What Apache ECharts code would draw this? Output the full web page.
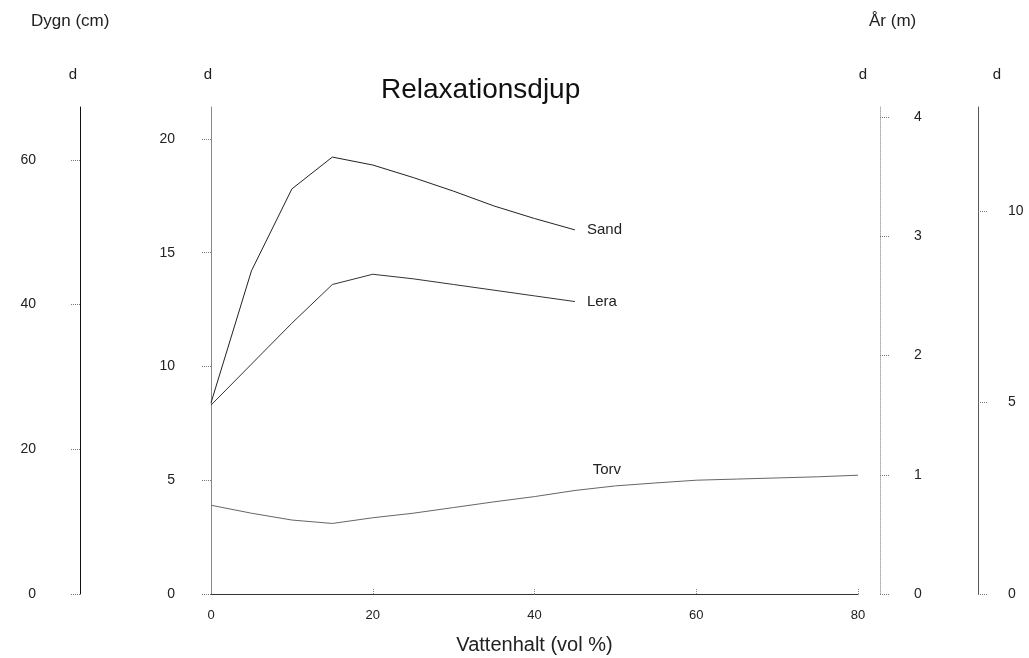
<!DOCTYPE html>
<html>
<head>
<meta charset="utf-8">
<script src="https://cdn.jsdelivr.net/npm/echarts@6/dist/echarts.min.js"></script>
<style>
html, body { margin: 0; background: #fff; }
#chart { width: 1029px; height: 658px; }
</style>
</head>
<body>
<div id="chart"></div>
<script>
// data
var xLera = [0, 5, 10, 15, 20, 25, 30, 35, 40, 45];
var sand = [8.4, 14.2, 17.8, 19.2, 18.85, 18.3, 17.7, 17.05, 16.5, 16.0];
var lera = [8.3, 10.1, 11.9, 13.6, 14.05, 13.85, 13.6, 13.35, 13.1, 12.85];
var xTorv = [0, 5, 10, 15, 20, 25, 30, 35, 40, 45, 50, 55, 60, 65, 70, 75, 80];
var torv = [3.9, 3.55, 3.25, 3.1, 3.35, 3.55, 3.8, 4.05, 4.28, 4.55, 4.75, 4.88, 5.0, 5.05, 5.1, 5.15, 5.22];

var dygnTicks = [0, 20, 40, 60];
var mainTicks = [0, 5, 10, 15, 20];
var arTicks = [0, 1, 2, 3, 4];
var farTicks = [0, 5, 10];

var font = 'Liberation Sans, Arial, sans-serif';

function pairs(xs, ys) {
    return xs.map(function (x, i) { return [x, ys[i]]; });
}

var torvData = pairs(xTorv, torv).map(function (p, i) {
    if (i === 9) {
        return {
            value: p,
            label: {
                show: true,
                formatter: 'Torv',
                position: 'top',
                distance: 13,
                offset: [32, 0],
                color: '#222',
                fontSize: 15,
                fontFamily: font
            }
        };
    }
    return p;
});

// build a y axis with dotted outward ticks
function sideAxis(opt) {
    return {
        type: 'value',
        position: opt.position,
        offset: opt.offset,
        min: 0,
        max: opt.max,
        interval: opt.interval,
        name: 'd',
        nameLocation: 'end',
        nameGap: 25,
        nameTextStyle: { color: '#222', fontSize: 15, fontFamily: font, padding: opt.namePad },
        splitLine: { show: false },
        axisLine: { show: true, onZero: false, lineStyle: { color: opt.lineColor, width: 1, type: opt.lineType || 'solid' } },
        axisTick: { show: true, inside: false, length: 10, customValues: opt.ticks, lineStyle: { color: '#777', type: 'dotted' } },
        axisLabel: { show: true, margin: opt.margin, customValues: opt.ticks, color: '#222', fontSize: 14, fontFamily: font }
    };
}

var chart = echarts.init(document.getElementById('chart'));
var option = {
    backgroundColor: '#fff',
    animation: false,
    title: {
        text: 'Relaxationsdjup',
        left: 376,
        top: 71,
        textStyle: { color: '#111', fontSize: 28, fontWeight: 'normal', fontFamily: font }
    },
    graphic: [
        { type: 'text', left: 31, top: 13, style: { text: 'Dygn (cm)', fill: '#222', fontSize: 17, fontFamily: font } },
        { type: 'text', left: 869, top: 13, style: { text: 'År (m)', fill: '#222', fontSize: 17, fontFamily: font } }
    ],
    grid: { left: 211, right: 171, top: 107, bottom: 64, containLabel: false, outerBoundsMode: 'none' },
    xAxis: {
        type: 'value',
        min: 0,
        max: 80,
        interval: 20,
        name: 'Vattenhalt (vol %)',
        nameLocation: 'middle',
        nameGap: 41,
        nameTextStyle: { color: '#222', fontSize: 20, fontFamily: font },
        splitLine: { show: false },
        axisLine: { onZero: false, lineStyle: { color: '#333', width: 1 } },
        axisTick: { show: true, inside: true, length: 6, lineStyle: { color: '#888', type: 'dotted' } },
        axisLabel: { margin: 15, color: '#222', fontSize: 13, fontFamily: font }
    },
    yAxis: [
        sideAxis({ position: 'left', offset: 0, max: 21.4, interval: 5, ticks: mainTicks, lineColor: '#888', margin: 36, namePad: [0, 6, 0, 0] }),
        sideAxis({ position: 'left', offset: 131, max: 67.3, interval: 20, ticks: dygnTicks, lineColor: '#111', margin: 44, namePad: [0, 14, 0, 0] }),
        sideAxis({ position: 'right', offset: 22, max: 4.084, interval: 1, ticks: arTicks, lineColor: '#aaa', lineType: 'dotted', margin: 34, namePad: [0, 34, 0, 0] }),
        sideAxis({ position: 'right', offset: 120, max: 12.71, interval: 5, ticks: farTicks, lineColor: '#555', margin: 30, namePad: [0, 0, 0, 38] })
    ],
    series: [
        {
            name: 'Sand',
            type: 'line',
            yAxisIndex: 0,
            data: pairs(xLera, sand),
            showSymbol: false,
            lineStyle: { color: '#222', width: 1 },
            endLabel: { show: true, formatter: 'Sand', distance: 12, color: '#222', fontSize: 15, fontFamily: font }
        },
        {
            name: 'Lera',
            type: 'line',
            yAxisIndex: 0,
            data: pairs(xLera, lera),
            showSymbol: false,
            lineStyle: { color: '#333', width: 1 },
            endLabel: { show: true, formatter: 'Lera', distance: 12, color: '#222', fontSize: 15, fontFamily: font }
        },
        {
            name: 'Torv',
            type: 'line',
            yAxisIndex: 0,
            data: torvData,
            symbol: 'circle',
            symbolSize: 0,
            showSymbol: true,
            showAllSymbol: true,
            lineStyle: { color: '#666', width: 1 }
        }
    ]
};
chart.setOption(option);
</script>
</body>
</html>
